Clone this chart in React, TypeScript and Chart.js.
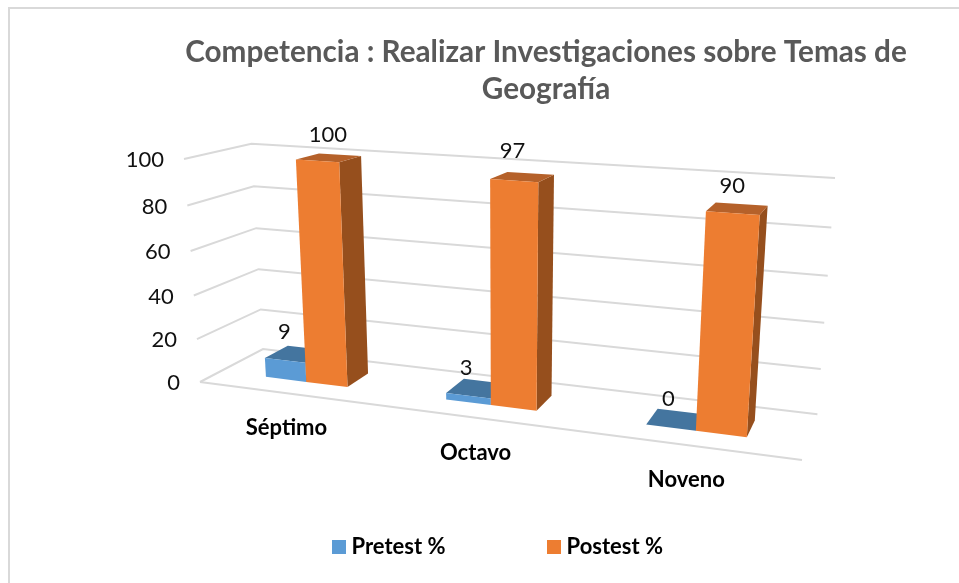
import React, { useEffect, useRef } from "react";
import { Chart, registerables } from "chart.js";

Chart.register(...registerables);

const categories = ["Séptimo", "Octavo", "Noveno"];
const seriesNames = ["Pretest %", "Postest %"];
const pretest = [9, 3, 0];
const postest = [100, 97, 90];
const titleLines = ["Competencia : Realizar Investigaciones sobre Temas de", "Geografía"];

const FONT = "Lato, 'Open Sans', sans-serif";
const GRID = "#D9D9D9";
const FACES = [
  { front: "#5B9BD5", top: "#44759F", side: "#3A6A94" },
  { front: "#ED7D31", top: "#B5612A", side: "#964F1D" },
];
// data label nudges (dataset -> point), in pixels from the top face centre
const LABEL_NUDGE = [
  [[-12, -22], [-11, -20], [-8, -21]],
  [[-1, -23], [-10, -26], [-5, -23]],
];
const BAR_DEPTH = [0.31, 0.69];
const LEGEND_GAP = 107;

// Projective camera of the 3-D box: t along categories, d depth, h height.
const W = { t: -0.15, d: 0.09, h: -0.05 };
const O = [200, 382];
const T = [802, 460];
const D = [263, 349];
const H = [184, 159];
const vec = (p: number[], w: number) => [p[0] * w - O[0], p[1] * w - O[1]];
const A = vec(T, 1 + W.t);
const B = vec(D, 1 + W.d);
const C = vec(H, 1 + W.h);
function project(t: number, d: number, h: number) {
  const w = 1 + W.t * t + W.d * d + W.h * h;
  return {
    x: (O[0] + A[0] * t + B[0] * d + C[0] * h) / w,
    y: (O[1] + A[1] * t + B[1] * d + C[1] * h) / w,
  };
}

function poly(ctx: CanvasRenderingContext2D, pts: { x: number; y: number }[], fill: string) {
  ctx.beginPath();
  pts.forEach((p, i) => (i ? ctx.lineTo(p.x, p.y) : ctx.moveTo(p.x, p.y)));
  ctx.closePath();
  ctx.fillStyle = fill;
  ctx.fill();
}

function line(ctx: CanvasRenderingContext2D, pts: { x: number; y: number }[]) {
  ctx.beginPath();
  pts.forEach((p, i) => (i ? ctx.lineTo(p.x, p.y) : ctx.moveTo(p.x, p.y)));
  ctx.stroke();
}

function swatch(color: string) {
  const c = document.createElement("canvas");
  c.width = 14;
  c.height = 14;
  const g = c.getContext("2d")!;
  g.fillStyle = color;
  g.fillRect(0, 0, 14, 14);
  return c;
}

const scene3d = {
  id: "scene3d",
  afterLayout(chart: any) {
    const title = chart.titleBlock;
    title.left = 133;
    title.right = 959;
    title.top = 1;
    const legend = chart.legend;
    legend.left = 337.5 - LEGEND_GAP;
    legend.right = 959;
    legend.top = 536 - LEGEND_GAP;
    legend.bottom = 583;
  },
  beforeDraw(chart: any) {
    const ctx = chart.ctx as CanvasRenderingContext2D;
    ctx.save();
    ctx.fillStyle = "#fff";
    ctx.fillRect(0, 0, 959, 583);
    ctx.fillStyle = GRID;
    ctx.fillRect(8, 7, 951, 2);
    ctx.fillRect(8, 7, 2, 576);
    ctx.restore();
  },
  beforeDatasetsDraw(chart: any) {
    const ctx = chart.ctx as CanvasRenderingContext2D;
    const { x: xs, y: ys } = chart.scales;
    const area = chart.chartArea;
    const toT = (px: number) => (px - area.left) / (area.right - area.left);
    const toH = (py: number) => (ys.bottom - py) / (ys.bottom - ys.top);
    ctx.save();

    // walls, floor and gridlines from the value scale
    ctx.strokeStyle = GRID;
    ctx.lineWidth = 2;
    ys.ticks.forEach((tick: any) => {
      const h = toH(ys.getPixelForValue(tick.value));
      line(ctx, [project(0, 0, h), project(0, 1, h), project(1, 1, h)]);
    });
    line(ctx, [project(0, 0, 0), project(1, 0, 0)]);

    // value-axis labels
    ctx.fillStyle = "#111";
    ctx.font = `22px ${FONT}`;
    ctx.textAlign = "right";
    ctx.textBaseline = "middle";
    ys.ticks.forEach((tick: any) => {
      const h = toH(ys.getPixelForValue(tick.value));
      const p = project(0, 0, h);
      ctx.fillText(String(tick.value), p.x - 20, p.y + 1);
    });

    // category labels
    ctx.fillStyle = "#000";
    ctx.font = `bold 22px ${FONT}`;
    ctx.textAlign = "center";
    categories.forEach((name, i) => {
      const p = project(toT(xs.getPixelForValue(i)), 0, 0);
      ctx.fillText(name, p.x - 1, p.y + 35);
    });

    // bars, back faces first
    const [d0, d1] = BAR_DEPTH;
    chart.data.datasets.forEach((ds: any, di: number) => {
      const meta = chart.getDatasetMeta(di);
      meta.data.forEach((el: any) => {
        const t0 = toT(el.x - el.width / 2);
        const t1 = toT(el.x + el.width / 2);
        const h = toH(el.y);
        const c = FACES[di];
        poly(ctx, [project(t1, d0, 0), project(t1, d1, 0), project(t1, d1, h), project(t1, d0, h)], c.side);
        poly(ctx, [project(t0, d0, h), project(t1, d0, h), project(t1, d1, h), project(t0, d1, h)], c.top);
        poly(ctx, [project(t0, d0, 0), project(t1, d0, 0), project(t1, d0, h), project(t0, d0, h)], c.front);
      });
    });

    // data labels
    ctx.fillStyle = "#111";
    ctx.font = `22px ${FONT}`;
    chart.data.datasets.forEach((ds: any, di: number) => {
      const meta = chart.getDatasetMeta(di);
      meta.data.forEach((el: any, i: number) => {
        const p = project(toT(el.x), (d0 + d1) / 2, toH(el.y));
        const [nx, ny] = LABEL_NUDGE[di][i];
        ctx.fillText(String(ds.data[i]), p.x + nx, p.y + ny);
      });
    });
    ctx.restore();
    return false;
  },
};

export default function App() {
  const ref = useRef<HTMLCanvasElement>(null);
  useEffect(() => {
    const chart = new Chart(ref.current!, {
      type: "bar",
      data: {
        labels: categories,
        datasets: [
          { label: seriesNames[0], data: pretest, backgroundColor: FACES[0].front },
          { label: seriesNames[1], data: postest, backgroundColor: FACES[1].front },
        ],
      },
      plugins: [scene3d],
      options: {
        responsive: false,
        animation: false,
        categoryPercentage: 0.465,
        barPercentage: 1,
        layout: { padding: 0 },
        scales: {
          x: { ticks: { display: false }, grid: { display: false }, border: { display: false } },
          y: {
            min: 0,
            max: 100,
            ticks: { display: false, stepSize: 20 },
            grid: { display: false },
            border: { display: false },
          },
        },
        plugins: {
          tooltip: { enabled: false },
          title: {
            display: true,
            text: titleLines,
            color: "#595959",
            font: { family: FONT, size: 29.7, weight: "bold", lineHeight: 1.25 },
            padding: { top: 33, bottom: 10 },
          },
          legend: {
            position: "bottom",
            align: "start",
            labels: {
              usePointStyle: true,
              pointStyleWidth: 3,
              boxHeight: 14,
              padding: LEGEND_GAP,
              color: "#000",
              font: { family: FONT, size: 22, weight: "bold" },
              generateLabels: () =>
                seriesNames.map((text, i) => ({
                  text,
                  datasetIndex: i,
                  fontColor: "#000",
                  fillStyle: FACES[i].front,
                  strokeStyle: FACES[i].front,
                  lineWidth: 0,
                  pointStyle: swatch(FACES[i].front),
                })),
            },
          },
        },
      } as any,
    });
    return () => chart.destroy();
  }, []);
  return (
    <canvas
      ref={ref}
      width={959}
      height={583}
      style={{ position: "absolute", left: 0, top: 0, display: "block" }}
    />
  );
}
